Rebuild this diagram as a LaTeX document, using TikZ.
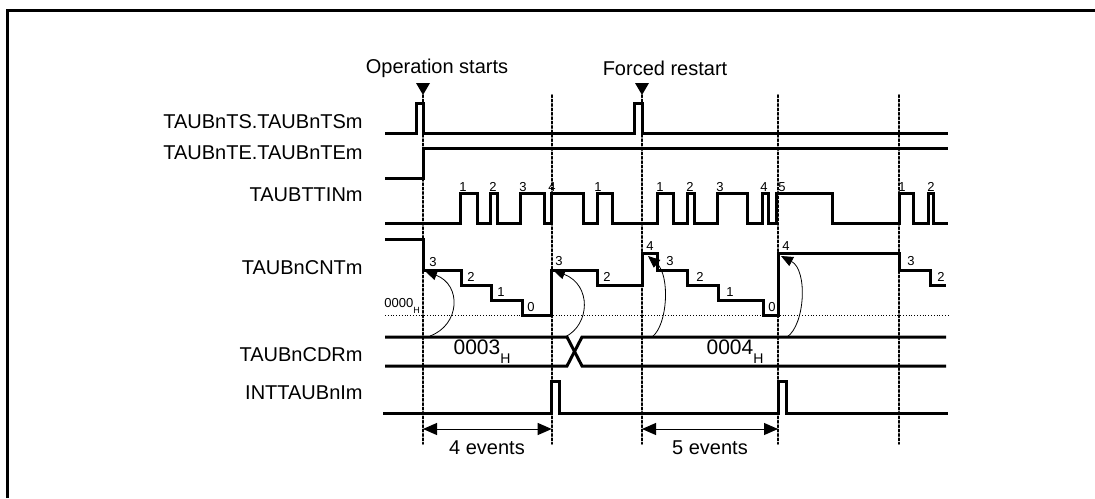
\documentclass[tikz,border=0pt]{standalone}
\usepackage{fontspec}
\setmainfont{Liberation Sans}
\usepackage{tkz-euclide}
\usetikzlibrary{arrows.meta}

\newcommand{\subH}[1]{\raisebox{-.8ex}{\fontsize{#1}{#1}\selectfont H}}

\begin{document}
\begin{tikzpicture}[x=.5pt,y=-.5pt,
  sig/.style={line width=1.5pt},
  guide/.style={line width=.8pt,dash pattern=on 1.2pt off 1pt},
  lbl/.style={inner sep=0pt,font=\fontsize{10}{12}\selectfont},
  tick/.style={inner sep=0pt,font=\fontsize{6.5}{7}\selectfont},
  reload/.style={line width=.4pt,-{Triangle[length=6pt,width=5pt]}},
  span/.style={line width=.5pt,{Triangle[length=7pt,width=6pt]}-{Triangle[length=7pt,width=6pt]}}]

\useasboundingbox (0,0) rectangle (1095,498);
\draw[line width=1.5pt] (7,498) -- (7,10) -- (1095,10);

\tkzDefPoints{423/95/G1,423/444/H1,551.7/95/G2,551.7/444/H2,642/95/G3,642/444/H3,
  778/95/G4,778/444/H4,899/95/G5,899/444/H5}
\tkzDefPoints{423/429/L1,551.7/429/R1,642/429/L2,778/429/R2}

% signal names
\node[lbl,anchor=east] (ts)   at (363,122) {TAUBnTS.TAUBnTSm};
\node[lbl,anchor=east] (te)   at (363,153) {TAUBnTE.TAUBnTEm};
\node[lbl,anchor=east] (ttin) at (363,195) {TAUBTTINm};
\node[lbl,anchor=east] (cnt)  at (363,268) {TAUBnCNTm};
\node[lbl,anchor=east] (cdr)  at (363,355) {TAUBnCDRm};
\node[lbl,anchor=east] (int)  at (363,393) {INTTAUBnIm};

\node[lbl] (opstart) at (437,68) {Operation starts};
\node[lbl] (restart) at (665,68) {Forced restart};
\fill (416,83) -- (430,83) -- (423,95) -- cycle;
\fill (635,83) -- (649,83) -- (642,95) -- cycle;

\tkzDrawSegments[guide](G1,H1 G2,H2 G3,H3 G4,H4 G5,H5)

% waveforms
\draw[sig] (385,133) -- (416,133) -- (416,103) -- (423,103) -- (423,133) -- (634,133)
  -- (634,103) -- (642,103) -- (642,133) -- (948,133);
\draw[sig] (385,178) -- (423,178) -- (423,148) -- (948,148);
\draw[sig] (385,223) \foreach \r/\f in {460/477,490/497,520/544,551/583,597/612,657/673,
  687/694,717/747,762/768,776/832,899/913,928/933}{ -- (\r,223) -- (\r,193) -- (\f,193)
  -- (\f,223)} -- (948,223);
\foreach \x/\n [count=\i] in {463/1,493/2,523/3,552/4,598/1,660/1,690/2,720/3,764/4,782/5,
  902/1,931/2}
  \node[tick] (p\i) at (\x,187) {\n};

\draw[line width=.4pt,densely dotted] (385,315) -- (948,315);
\node[tick,anchor=west] (zero) at (384,306) {0000\subH{4.5}};
\draw[sig] (385,239) -- (423,239) -- (423,270) -- (461,270) -- (461,285) -- (491,285)
  -- (491,300) -- (522,300) -- (522,315) -- (551.7,315) -- (551.7,270) -- (597,270)
  -- (597,285) -- (642,285) -- (642,253) -- (657,253) -- (657,270) -- (687,270)
  -- (687,285) -- (718,285) -- (718,300) -- (763,300) -- (763,315) -- (778,315)
  -- (778,253) -- (899,253) -- (899,270) -- (930,270) -- (930,285) -- (946,285);
\foreach \x/\y/\n [count=\i] in {433/262/3,471/277/2,501/292/1,531/307/0,559/261/3,
  607/277/2,650/246/4,670/261/3,700/277/2,730/292/1,772/307/0,786/246/4,911/261/3,941/277/2}
  \node[tick] (c\i) at (\x,\y) {\n};

\draw[sig] (385,337) -- (567,337) -- (582,366) -- (946,366);
\draw[sig] (385,366) -- (567,366) -- (582,337) -- (946,337);
\node[lbl,font=\fontsize{10.5}{12}\selectfont] (cdrA) at (482,352) {0003\subH{7}};
\node[lbl,font=\fontsize{10.5}{12}\selectfont] (cdrB) at (735,352) {0004\subH{7}};

\draw[reload] (430,336) .. controls (460,325) and (462,285) .. (425,271);
\draw[reload] (565,337) .. controls (590,325) and (592,285) .. (553,270);
\draw[reload] (652,337) .. controls (668,325) and (670,275) .. (648,256);
\draw[reload] (787,337) .. controls (805,325) and (808,270) .. (781,256);

\draw[sig] (383,413) -- (551.7,413) -- (551.7,381) -- (559,381) -- (559,413) -- (778,413)
  -- (778,381) -- (786,381) -- (786,413) -- (948,413);

\tkzDrawSegments[span](L1,R1 L2,R2)
\node[lbl] (ev4) at (487,448) {4 events};
\node[lbl] (ev5) at (710,448) {5 events};

\end{tikzpicture}
\end{document}
